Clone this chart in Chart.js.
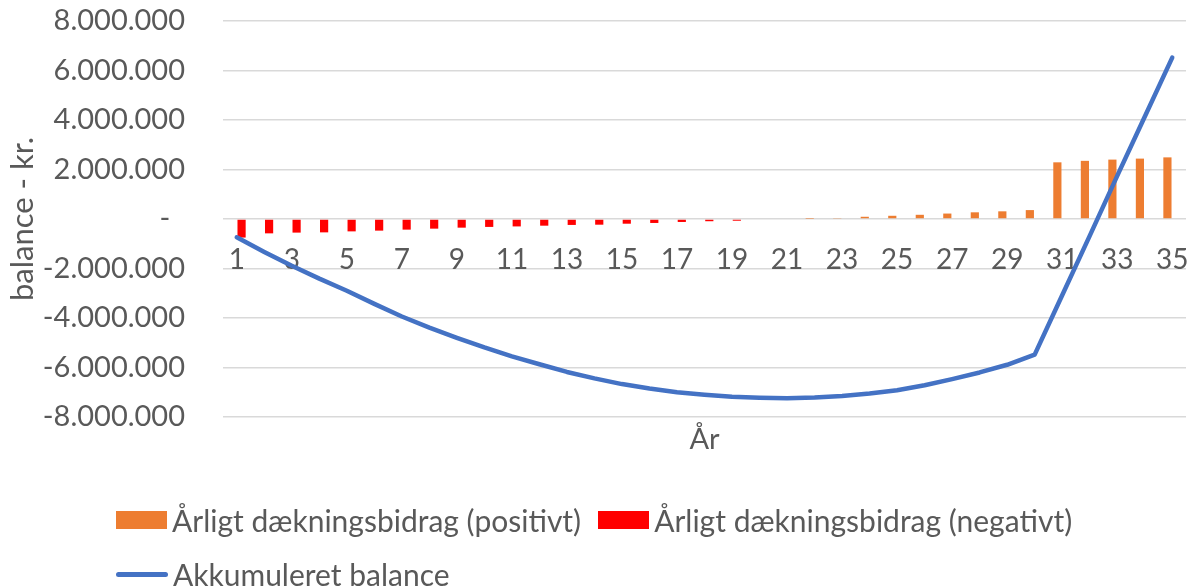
<!DOCTYPE html>
<html>
<head>
<meta charset="utf-8">
<script src="https://cdn.jsdelivr.net/npm/chart.js@4.4.1/dist/chart.umd.min.js"></script>
<style>
  html, body { margin: 0; padding: 0; background: #fff; }
  #wrap { position: relative; width: 1191px; height: 586px; }
  #chart { position: absolute; left: 0; top: 0; }
  .legend { position: absolute; left: 116px; font-family: Lato, "Liberation Sans", sans-serif; font-size: 30px; color: #595959; display: flex; align-items: center; white-space: nowrap; }
  .box { display: inline-block; width: 51px; height: 18px; margin-right: 5px; }
  .ln { display: inline-block; width: 52px; height: 5px; border-radius: 3px; background: #4472C4; margin-right: 5px; }
</style>
</head>
<body>
<div id="wrap">
  <canvas id="chart" width="1191" height="586"></canvas>
  <div class="legend" style="top:502px;">
    <span class="box" style="background:#ED7D31"></span><span>Årligt dækningsbidrag (positivt)</span>
    <span class="box" style="background:#FF0000; margin-left:17px;"></span><span>Årligt dækningsbidrag (negativt)</span>
  </div>
  <div class="legend" style="top:556px;">
    <span class="ln"></span><span>Akkumuleret balance</span>
  </div>
</div>
<script>
const years = ['1','2','3','4','5','6','7','8','9','10','11','12','13','14','15','16','17','18','19','20',
               '21','22','23','24','25','26','27','28','29','30','31','32','33','34','35'];

const positiveContribution = [null,null,null,null,null,null,null,null,null,null,
                              null,null,null,null,null,null,null,null,null,null,
                              null,10000,40000,90000,130000,170000,220000,270000,310000,360000,
                              2290000,2350000,2400000,2440000,2490000];

const negativeContribution = [-750000,-580000,-550000,-540000,-500000,-470000,-430000,-390000,-350000,-320000,
                              -300000,-270000,-240000,-230000,-190000,-160000,-120000,-90000,-70000,-30000,
                              null,null,null,null,null,null,null,null,null,null,
                              null,null,null,null,null];

const accumulatedBalance = [-740000,-1330000,-1890000,-2410000,-2900000,-3430000,-3940000,-4390000,-4800000,-5190000,
                            -5550000,-5870000,-6180000,-6440000,-6670000,-6850000,-7000000,-7100000,-7180000,-7220000,
                            -7240000,-7210000,-7150000,-7050000,-6920000,-6720000,-6470000,-6200000,-5890000,-5480000,
                            -3080000,-680000,1740000,4130000,6520000];

const yTicks = [-8000000,-6000000,-4000000,-2000000,0,2000000,4000000,6000000,8000000];

const FONT = 'Lato, "Liberation Sans", sans-serif';
const GREY = '#595959';

function fmt(v) {
  if (v === 0) return '-  ';
  const s = Math.abs(v).toString().replace(/\B(?=(\d{3})+(?!\d))/g, '.');
  return (v < 0 ? '-' : '') + s;
}

new Chart(document.getElementById('chart'), {
  type: 'bar',
  data: {
    labels: years,
    datasets: [
      {
        type: 'line',
        label: 'Akkumuleret balance',
        data: accumulatedBalance,
        borderColor: '#4472C4',
        backgroundColor: '#4472C4',
        borderWidth: 4.5,
        pointRadius: 0,
        tension: 0,
        borderCapStyle: 'round',
        borderJoinStyle: 'round',
        order: 0
      },
      {
        label: 'Årligt dækningsbidrag (positivt)',
        data: positiveContribution,
        backgroundColor: '#ED7D31',
        categoryPercentage: 0.7,
        barPercentage: 0.85,
        order: 1
      },
      {
        label: 'Årligt dækningsbidrag (negativt)',
        data: negativeContribution,
        backgroundColor: '#FF0000',
        categoryPercentage: 0.7,
        barPercentage: 0.85,
        order: 1
      }
    ]
  },
  options: {
    responsive: false,
    animation: false,
    layout: { padding: { top: 21, right: 5, left: 0, bottom: 0 } },
    plugins: { legend: { display: false }, tooltip: { enabled: false } },
    scales: {
      x: {
        position: { y: 0 },
        grid: { display: false, drawTicks: false },
        border: { display: false },
        ticks: {
          color: GREY,
          font: { family: FONT, size: 28 },
          padding: 24,
          autoSkip: false,
          maxRotation: 0,
          callback: function(value, index) { return index % 2 === 0 ? years[index] : ''; }
        },
        afterFit: function(scale) { scale.paddingLeft = 0; scale.paddingRight = 0; }
      },
      x2: {
        type: 'category',
        labels: years,
        position: 'bottom',
        grid: { display: false, drawTicks: false },
        border: { display: false },
        ticks: { display: false },
        title: { display: true, text: 'År', color: GREY, font: { family: FONT, size: 29 }, padding: { top: 0, bottom: 129 } },
        afterFit: function(scale) { scale.height = 169; scale.paddingLeft = 0; scale.paddingRight = 0; }
      },
      y: {
        min: -8000000,
        max: 8000000,
        afterBuildTicks: function(scale) { scale.ticks = yTicks.map(v => ({ value: v })); },
        grid: { color: '#D9D9D9', lineWidth: 1.5, drawTicks: false },
        border: { display: false },
        ticks: {
          color: GREY,
          font: { family: FONT, size: 29 },
          padding: 38,
          callback: function(v) { return fmt(v); }
        },
        title: { display: true, text: 'balance - kr.', color: GREY, font: { family: FONT, size: 31 }, padding: { top: 4, bottom: 0 } },
        afterFit: function(scale) { scale.width = 223; scale.paddingTop = 0; scale.paddingBottom = 0; }
      }
    }
  }
});
</script>
</body>
</html>
